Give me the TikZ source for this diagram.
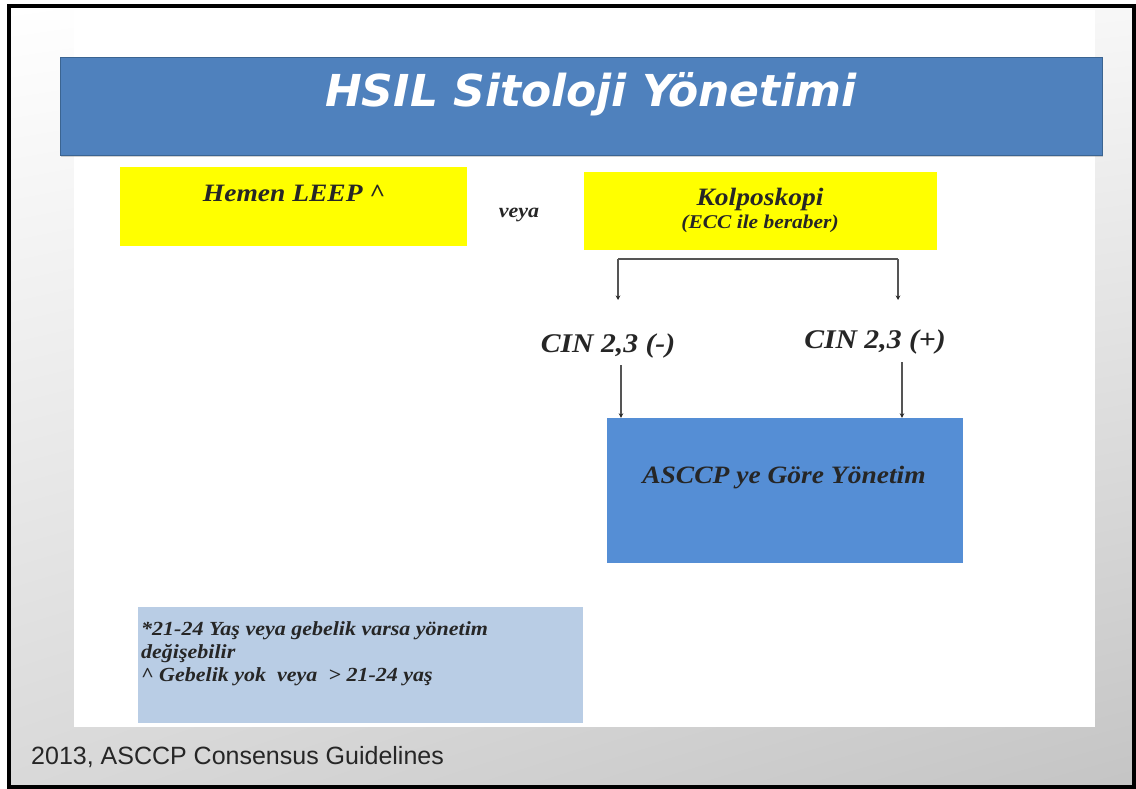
\documentclass[tikz,border=0pt]{standalone}
\usepackage{fontspec}
\usepackage{graphicx}
\setmainfont{Liberation Serif}
\newfontfamily\titlefamily{DejaVu Sans}
\newfontfamily\footfamily{Liberation Sans}
\usetikzlibrary{arrows.meta,shadows,shadings}
% slightly widened serif lettering
\newcommand\hstretch[1]{\scalebox{1.1}[1]{#1}}
\definecolor{headblue}{HTML}{4F81BD}
\definecolor{headedge}{HTML}{3B6491}
\definecolor{markyellow}{HTML}{FFFF00}
\definecolor{boxblue}{HTML}{558ED5}
\definecolor{noteblue}{HTML}{B9CDE5}
\definecolor{linegray}{HTML}{555555}
\begin{document}
\begin{tikzpicture}[x=1pt,y=-1pt,
  hdrbox/.style={fill=headblue, draw=headedge, line width=0.8pt, inner sep=0pt,
    minimum width=1042pt, minimum height=98pt,
    drop shadow={shadow xshift=1pt, shadow yshift=-2pt, opacity=0.35}},
  titletext/.style={text=white, font=\titlefamily\bfseries\itshape\fontsize{44}{50}\selectfont, inner sep=0pt},
  ybox/.style={fill=markyellow, inner sep=0pt},
  bluebox/.style={fill=boxblue, inner sep=0pt},
  notebox/.style={fill=noteblue, inner sep=0pt},
  bitext/.style={font=\bfseries\itshape, text=black!85, inner sep=0pt},
  flow/.style={draw=linegray, line width=1.3pt,
    -{Stealth[length=4.5pt,width=4.5pt,color=black!85]}},
  bracketline/.style={draw=linegray, line width=1.8pt}
]
\useasboundingbox (0,0) rectangle (1136,789);

% slide backdrop
\fill[white] (0,0) rectangle (1136,789);
\shade[upper left=white, upper right=white!97!black,
       lower left=white!85!black, lower right=white!77!black] (9,6) rectangle (1134,787);
\fill[white] (74,10) rectangle (1095,727);

% title bar
\node[hdrbox] (hdr) at (581,106) {};
\node[titletext, anchor=base] (title) at (591,107) {HSIL Sitoloji Yönetimi};

% first choices
\node[ybox, minimum width=347pt, minimum height=79pt] (leep) at (293.5,206.5) {};
\node[bitext, anchor=base, font=\bfseries\itshape\fontsize{25}{30}\selectfont] (leeptext) at (294,201)
  {\hstretch{Hemen LEEP \textasciicircum}};

\node[bitext, anchor=base, font=\bfseries\itshape\fontsize{20}{24}\selectfont] (veya) at (519,218)
  {\hstretch{veya}};

\node[ybox, minimum width=353pt, minimum height=78pt] (kolp) at (760.5,211) {};
\node[bitext, anchor=base, font=\bfseries\itshape\fontsize{25}{30}\selectfont] (kolptext) at (760,205)
  {\hstretch{Kolposkopi}};
\node[bitext, anchor=base, font=\bfseries\itshape\fontsize{19.5}{24}\selectfont] (ecctext) at (760,229)
  {\hstretch{(ECC ile beraber)}};

% colposcopy outcomes
\node[bitext, anchor=base, font=\bfseries\itshape\fontsize{27}{32}\selectfont] (cinneg) at (608,352)
  {\hstretch{CIN 2,3 (-)}};
\node[bitext, anchor=base, font=\bfseries\itshape\fontsize{27}{32}\selectfont] (cinpos) at (875,348)
  {\hstretch{CIN 2,3 (+)}};

\node[bluebox, minimum width=356pt, minimum height=145pt] (asccp) at (785,490.5) {};
\node[bitext, anchor=base, font=\bfseries\itshape\fontsize{25}{30}\selectfont] (asccptext) at (784,483)
  {\hstretch{ASCCP ye Göre Yönetim}};

% bracket under colposcopy
\coordinate (bl) at (618,259);
\coordinate (br) at (898,259);
\coordinate (blend) at (618,300);
\coordinate (brend) at (898,300);
\draw[bracketline] (bl) -- (br);
\draw[flow] (bl) -- (blend);
\draw[flow] (br) -- (brend);

% arrows into the management box
\coordinate (negstart) at (621,365);
\coordinate (posstart) at (902,362);
\draw[flow] (negstart) -- (negstart |- asccp.north);
\draw[flow] (posstart) -- (posstart |- asccp.north);

% footnote box
\node[notebox, minimum width=445pt, minimum height=116pt] (note) at (360.5,665) {};
\node[bitext, anchor=base west, font=\bfseries\itshape\fontsize{20}{24}\selectfont] (noteA) at (141,635)
  {\hstretch{*21-24 Yaş veya gebelik varsa yönetim}};
\node[bitext, anchor=base west, font=\bfseries\itshape\fontsize{20}{24}\selectfont] (noteB) at (141,658)
  {\hstretch{değişebilir}};
\node[bitext, anchor=base west, font=\bfseries\itshape\fontsize{20}{24}\selectfont] (noteC) at (141,681)
  {\hstretch{\textasciicircum{} Gebelik yok~ veya~ > 21-24 yaş}};

% source line
\node[anchor=base west, inner sep=0pt, text=black!85, font=\footfamily\fontsize{25}{30}\selectfont] (source) at (31,764)
  {2013, ASCCP Consensus Guidelines};

% outer frame
\draw[black, line width=3.5pt] (9,6) rectangle (1134,787);
\end{tikzpicture}
\end{document}
